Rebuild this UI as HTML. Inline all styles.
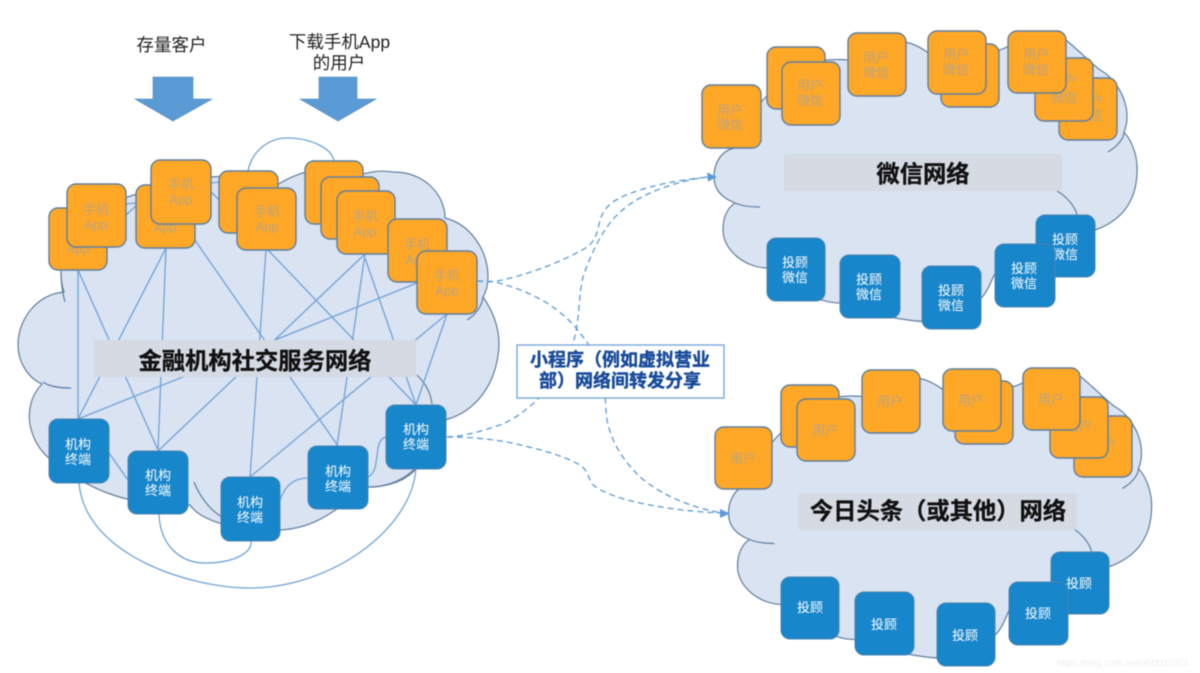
<!DOCTYPE html>
<html>
<head>
<meta charset="utf-8">
<style>
html,body{margin:0;padding:0;background:#fff;width:1200px;height:673px;overflow:hidden}
svg{display:block;filter:blur(.45px)}
text{font-family:"Liberation Sans","Noto Sans CJK SC",sans-serif;text-anchor:middle}
.o{fill:#ffa726;stroke:#5f7f9f;stroke-width:1.4}
.b{fill:#1886cb;stroke:#4d84ad;stroke-width:1}
.ot{fill:#b9a684;font-size:13px}
.bt{fill:#fff;font-size:13px}
.l{fill:none;stroke:#6fa3d8;stroke-width:1.3}
.d{fill:none;stroke:#5b9bd5;stroke-width:1.3;stroke-dasharray:6 4}
.c{fill:#d9e3f2;stroke:#5f7f9f;stroke-width:1.2}
.a{fill:none;stroke:#5f7f9f;stroke-width:1.2}
.bar{fill:#d5dae3}
.h{font-size:23.3px;font-weight:bold;fill:#111;stroke:#111;stroke-width:.35px}
.top{font-size:17.5px;fill:#222}
.tc{font-family:"Liberation Sans","Noto Sans CJK TC",sans-serif}
.lb{font-size:18px;font-weight:bold;fill:#174a9a;stroke:#174a9a;stroke-width:.4px}
</style>
</head>
<body>
<svg width="1200" height="673" viewBox="0 0 1200 673" xmlns="http://www.w3.org/2000/svg">
<defs>
<g id="cl">
<path class="c" d="M714 177C714 162 722 150 735 148C745 120 760 95 790 80C800 62 825 58 848 60C860 40 885 35 905 42C915 44 925 50 932 56C945 45 975 40 1000 50C1025 38 1055 34 1066 40C1078 50 1090 62 1100 70C1112 76 1127 95 1127 117C1127 122 1126 127 1124 132C1133 142 1138 158 1137 173C1136 205 1118 222 1095 230C1075 240 1050 248 1040 258C1020 265 1000 268 994 275C990 285 985 295 981 298C965 325 935 325 895 318C875 305 860 303 840 303C815 303 790 285 768 268C745 268 723 250 723 230C723 218 727 208 735 203C722 198 714 190 714 177Z"/>
<path class="a" d="M735 203C742 206 750 207 760 207"/>
<path class="a" d="M1057 191C1066 196 1075 206 1077 215"/>
<path class="a" d="M1108 152C1118 146 1124 138 1124 132"/>
<path class="a" d="M932 56C928 62 929 68 930 72"/>
</g>
</defs>

<!-- left cloud -->
<path class="c" d="M64 292C38 294 18 318 18 345C18 362 28 378 42 384C30 396 28 412 30 425C34 445 46 458 60 466C90 490 130 507 190 505C200 520 235 532 280 530C320 528 340 505 368 487C400 487 425 470 445 420C475 412 497 385 499 345C499 325 492 310 483 297C486 292 488 285 488 277C488 250 470 224 445 218C445 195 425 172 393 172C380 170 370 172 363 174C345 168 320 168 306 172C295 175 285 180 277 185C240 170 200 175 160 190C100 195 60 240 61 273C61 280 62 286 64 292Z"/>
<path class="a" d="M43 382C50 387 60 388 71 388"/>
<path class="a" d="M61 273C61 285 63 295 65 302"/>
<path class="a" d="M194 482C200 497 210 510 222 517"/>
<path class="a" d="M417 375C426 384 431 394 432 404"/>
<path class="a" d="M467 320C477 314 482 305 483 297"/>
<path class="a" d="M368 487C390 487 407 480 417 468"/>

<!-- left connections -->
<path class="l" d="M78 270V419M78 270L158 450M166 248L78 419M166 248L158 450M183 223L338 446M266 250L250 477M268 250L416 405M365 254L158 451M365 254L337 446M365 258L416 405M417 283L78 419M447 314L250 477M447 314L416 405M126 215L151 192M126 204L136 203M211 183L219 182M211 192L237 217"/>
<path class="l" d="M248 171C252 150 270 138 287 138C310 138 332 148 334 161"/>
<path class="l" d="M79 483C85 555 190 588 250 588C330 588 412 530 416 468"/>
<path class="l" d="M159 514C160 545 180 563 205 563C230 563 252 555 251 541"/>
<path class="l" d="M109 453L128 480"/>
<path class="l" d="M280 500C285 485 295 478 308 478"/>
<path class="l" d="M368 477C382 470 372 440 386 437"/>

<!-- left bar -->
<rect class="bar" x="94" y="340" width="322" height="37"/>
<text class="h" x="255" y="369">金融机构社交服务网络</text>

<!-- arrows + labels -->
<path d="M153 77H193V99H212L173 121L135 99H153Z" fill="#5b9bd5" stroke="#4f86b8" stroke-width=".6"/>
<path d="M319 77H357V99H376L338 121L300 99H319Z" fill="#5b9bd5" stroke="#4f86b8" stroke-width=".6"/>
<text class="top" x="171.5" y="51">存量客户</text>
<text class="top" x="339.5" y="48">下载手机App</text>
<text class="top" x="339" y="69">的用户</text>

<!-- left orange boxes -->
<g>
<rect class="o" x="49" y="208" width="58" height="62" rx="9"/><text class="ot" x="78" y="253">App</text>
<rect class="o" x="67" y="184" width="59" height="63" rx="9"/><text class="ot" x="96" y="214">手机</text><text class="ot" x="96" y="229">App</text>
<rect class="o" x="136" y="185" width="59" height="63" rx="9"/><text class="ot" x="165" y="232">App</text>
<rect class="o" x="151" y="160" width="60" height="64" rx="9"/><text class="ot" x="181" y="189">手机</text><text class="ot" x="181" y="204">App</text>
<rect class="o" x="219" y="171" width="59" height="62" rx="9"/>
<rect class="o" x="237" y="188" width="59" height="62" rx="9"/><text class="ot" x="267" y="216">手机</text><text class="ot" x="267" y="231">App</text>
<rect class="o" x="305" y="161" width="58" height="63" rx="9"/>
<rect class="o" x="321" y="177" width="58" height="62" rx="9"/>
<rect class="o" x="337" y="191" width="58" height="63" rx="9"/><text class="ot" x="365" y="221">手机</text><text class="ot" x="365" y="236">App</text>
<rect class="o" x="388" y="219" width="59" height="63" rx="9"/><text class="ot" x="417" y="249">手机</text><text class="ot" x="417" y="264">App</text>
<rect class="o" x="417" y="251" width="60" height="63" rx="9"/><text class="ot" x="447" y="280">手机</text><text class="ot" x="447" y="295">App</text>
</g>

<!-- left blue boxes -->
<g>
<rect class="b" x="49" y="419" width="60" height="64" rx="9"/><text class="bt" x="78" y="449">机构</text><text class="bt" x="78" y="464">终端</text>
<rect class="b" x="128" y="451" width="60" height="63" rx="9"/><text class="bt" x="158" y="480">机构</text><text class="bt" x="158" y="495">终端</text>
<rect class="b" x="221" y="477" width="59" height="64" rx="9"/><text class="bt" x="250" y="507">机构</text><text class="bt" x="250" y="522">终端</text>
<rect class="b" x="308" y="446" width="60" height="63" rx="9"/><text class="bt" x="338" y="476">机构</text><text class="bt" x="338" y="491">终端</text>
<rect class="b" x="386" y="405" width="60" height="64" rx="9"/><text class="bt" x="416" y="434">机构</text><text class="bt" x="416" y="449">终端</text>
</g>

<!-- right clouds -->
<use href="#cl"/>
<use href="#cl" x="14.5" y="336.5"/>

<!-- dashed connectors -->
<path class="d" d="M477 281L495 281.5C530 275 570 258 587 247C597 240 598 228 600 220C605 205 615 198 640 190C665 182 690 179 708 177"/>
<path class="d" d="M477 281L495 282C515 287 532 294 547 303C562 313 572 322 580 333C592 348 600 362 603 377C606 392 605 407 607 420C612 445 625 462 640 477C665 498 695 508 722 513"/>
<path class="d" d="M447 437C465 436 482 431 500 425C515 419 528 409 540 397C555 381 565 362 573 343C580 322 578 298 583 277C588 262 595 246 603 233C612 218 625 206 640 198C662 186 690 179 708 177"/>
<path class="d" d="M447 437C470 437 490 439 507 442C535 448 560 454 580 465C590 472 588 480 593 485C605 494 622 499 640 503C668 509 695 512 722 513"/>
<path d="M717 177L707 172.5L708 181.5Z" fill="#5b9bd5"/>
<path d="M730 513.5L720 509L720 518Z" fill="#5b9bd5"/>

<!-- label box -->
<rect x="517" y="345" width="207" height="53" fill="#fff" stroke="#6fa3d8" stroke-width="1.3"/>
<text class="lb" x="620" y="366">小程序<tspan class="tc">（</tspan>例如虚拟营业</text>
<text class="lb" x="620" y="387">部<tspan class="tc">）</tspan>网络间转发分享</text>

<!-- WeChat cloud content -->
<rect class="bar" x="784" y="154" width="278" height="37" rx="3"/>
<text class="h" x="923" y="182">微信网络</text>

<g>
<rect class="o" x="702" y="85" width="59" height="63" rx="9"/><text class="ot" x="730" y="115">用户</text><text class="ot" x="730" y="129">微信</text>
<rect class="o" x="767" y="47" width="58" height="62" rx="9"/>
<rect class="o" x="782" y="62" width="58" height="63" rx="9"/><text class="ot" x="810" y="90">用户</text><text class="ot" x="810" y="105">微信</text>
<rect class="o" x="848" y="33" width="58" height="63" rx="9"/><text class="ot" x="876" y="62">用户</text><text class="ot" x="876" y="77">微信</text>
<rect class="o" x="941" y="44" width="58" height="63" rx="9"/>
<rect class="o" x="928" y="31" width="58" height="63" rx="9"/><text class="ot" x="956" y="59">用户</text><text class="ot" x="956" y="74">微信</text>
<rect class="o" x="1059" y="78" width="58" height="62" rx="9"/><text class="ot" x="1090" y="105">用户</text><text class="ot" x="1090" y="120">微信</text>
<rect class="o" x="1035" y="58" width="58" height="63" rx="9"/><text class="ot" x="1064" y="85">用户</text><text class="ot" x="1064" y="102">微信</text>
<rect class="o" x="1008" y="31" width="58" height="62" rx="9"/><text class="ot" x="1036" y="59">用户</text><text class="ot" x="1036" y="74">微信</text>
<rect class="b" x="767" y="238" width="58" height="63" rx="9"/><text class="bt" x="795" y="267">投顾</text><text class="bt" x="795" y="282">微信</text>
<rect class="b" x="840" y="255" width="60" height="63" rx="9"/><text class="bt" x="869" y="284">投顾</text><text class="bt" x="869" y="299">微信</text>
<rect class="b" x="922" y="266" width="59" height="63" rx="9"/><text class="bt" x="951" y="295">投顾</text><text class="bt" x="951" y="310">微信</text>
<rect class="b" x="1036" y="215" width="59" height="62" rx="9"/><text class="bt" x="1065" y="244">投顾</text><text class="bt" x="1065" y="259">微信</text>
<rect class="b" x="995" y="244" width="60" height="63" rx="9"/><text class="bt" x="1024" y="273">投顾</text><text class="bt" x="1024" y="288">微信</text>
</g>

<!-- Toutiao cloud content -->
<rect class="bar" x="798" y="493" width="279" height="37" rx="3"/>
<text class="h" x="938" y="519">今日头条<tspan class="tc">（</tspan>或其他<tspan class="tc">）</tspan>网络</text>

<g>
<rect class="o" x="715" y="427" width="57" height="62" rx="9"/><text class="ot" x="743" y="463">用户</text>
<rect class="o" x="781" y="385" width="58" height="62" rx="9"/>
<rect class="o" x="797" y="399" width="58" height="62" rx="9"/><text class="ot" x="825" y="435">用户</text>
<rect class="o" x="862" y="370" width="58" height="63" rx="9"/><text class="ot" x="890" y="406">用户</text>
<rect class="o" x="955" y="381" width="58" height="63" rx="9"/>
<rect class="o" x="943" y="369" width="58" height="62" rx="9"/><text class="ot" x="971" y="405">用户</text>
<rect class="o" x="1074" y="416" width="58" height="61" rx="9"/><text class="ot" x="1103" y="449">用户</text>
<rect class="o" x="1050" y="397" width="58" height="61" rx="9"/><text class="ot" x="1079" y="431">用户</text>
<rect class="o" x="1023" y="368" width="57" height="62" rx="9"/><text class="ot" x="1051" y="404">用户</text>
<rect class="b" x="781" y="577" width="58" height="62" rx="9"/><text class="bt" x="810" y="612">投顾</text>
<rect class="b" x="855" y="592" width="59" height="63" rx="9"/><text class="bt" x="884" y="629">投顾</text>
<rect class="b" x="937" y="603" width="58" height="63" rx="9"/><text class="bt" x="965" y="640">投顾</text>
<rect class="b" x="1051" y="552" width="58" height="62" rx="9"/><text class="bt" x="1079" y="588">投顾</text>
<rect class="b" x="1009" y="582" width="59" height="63" rx="9"/><text class="bt" x="1038" y="618">投顾</text>
</g>

<text x="1123" y="666" font-size="9" style="fill:#eceef0">https://blog.csdn.net/u011110301</text>
</svg>
</body>
</html>
